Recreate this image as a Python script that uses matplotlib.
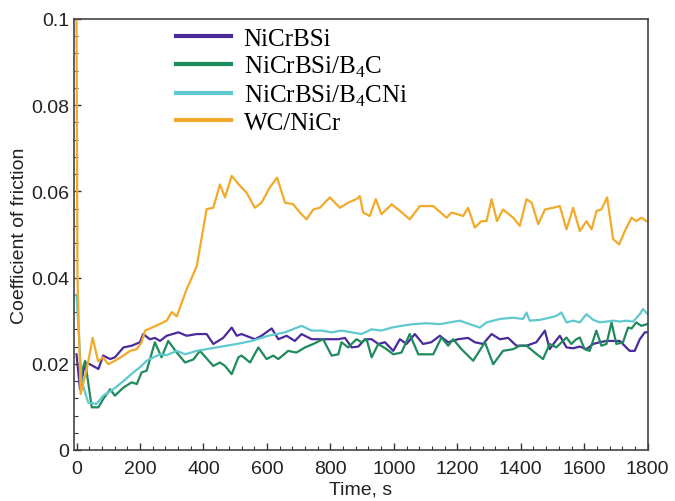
import numpy as np
import matplotlib
matplotlib.use('Agg')
import matplotlib.pyplot as plt
from matplotlib.ticker import MultipleLocator

# ------------------------------ Data -----------------------------------
labels = ['NiCrBSi', 'NiCrBSi/B$_4$C', 'NiCrBSi/B$_4$CNi', 'WC/NiCr']

t_nicrbsi = [0, 11, 27, 42, 69, 84, 106, 121, 148, 174, 200, 210, 231, 247, 263, 284, 321, 347, 379, 410,
             431, 462, 489, 505, 520, 562, 583, 615, 636, 662, 688, 709, 741, 762, 793, 825, 846, 867, 888, 909,
             930, 951, 972, 998, 1019, 1040, 1066, 1092, 1118, 1145, 1171, 1202, 1234, 1255, 1281, 1308, 1334,
             1360, 1386, 1418, 1449, 1476, 1491, 1507, 1523, 1544, 1565, 1586, 1607, 1628, 1649, 1670, 1691,
             1712, 1743, 1759, 1775, 1791, 1800]
cof_nicrbsi = [0.0222, 0.0141, 0.0203, 0.0199, 0.0188, 0.0219, 0.0211, 0.0215, 0.0238, 0.0242,
               0.025, 0.0269, 0.0257, 0.026, 0.0253, 0.0265, 0.0273, 0.0265, 0.0269, 0.0269,
               0.0246, 0.026, 0.0284, 0.0265, 0.0269, 0.0257, 0.0265, 0.0282, 0.0257, 0.0265,
               0.0253, 0.0269, 0.0257, 0.0257, 0.0257, 0.0257, 0.026, 0.0238, 0.024, 0.0257,
               0.0257, 0.0246, 0.025, 0.023, 0.0257, 0.0246, 0.0269, 0.0246, 0.025, 0.0265,
               0.025, 0.0257, 0.026, 0.025, 0.0246, 0.0269, 0.0257, 0.026, 0.0242, 0.0242,
               0.025, 0.0277, 0.0234, 0.025, 0.0265, 0.0238, 0.0236, 0.024, 0.0234, 0.0246,
               0.025, 0.0253, 0.0253, 0.0253, 0.023, 0.023, 0.0257, 0.0273, 0.0273]

t_b4c = [10, 27, 48, 69, 84, 106, 121, 148, 174, 190, 205, 221, 247, 268, 289, 316, 342, 368, 389, 431,
         452, 468, 489, 510, 520, 547, 573, 599, 620, 636, 667, 693, 720, 746, 777, 804, 825, 835, 856, 882,
         898, 914, 930, 951, 977, 998, 1024, 1050, 1077, 1098, 1124, 1150, 1171, 1187, 1213, 1250, 1287,
         1313, 1344, 1376, 1397, 1418, 1444, 1470, 1491, 1512, 1533, 1544, 1559, 1575, 1586, 1601, 1617,
         1638, 1654, 1670, 1686, 1701, 1722, 1738, 1749, 1764, 1780, 1798]
cof_b4c = [0.0165, 0.0207, 0.0099, 0.0099, 0.0118, 0.0141, 0.0126, 0.0145, 0.0157, 0.0153,
           0.018, 0.0184, 0.025, 0.0215, 0.0253, 0.0226, 0.0203, 0.021, 0.023, 0.0195,
           0.0203, 0.0195, 0.0176, 0.0215, 0.0219, 0.0203, 0.0238, 0.0211, 0.0219, 0.0211,
           0.023, 0.0226, 0.0238, 0.0246, 0.0257, 0.0219, 0.0222, 0.025, 0.0238, 0.0257,
           0.025, 0.0257, 0.0215, 0.0246, 0.0234, 0.0222, 0.0226, 0.0269, 0.0222, 0.0222,
           0.0222, 0.0261, 0.0242, 0.0257, 0.0234, 0.0207, 0.025, 0.0199, 0.023, 0.0234,
           0.0242, 0.0242, 0.0226, 0.0211, 0.0246, 0.0238, 0.0253, 0.0261, 0.0246, 0.0257,
           0.0261, 0.0234, 0.023, 0.0277, 0.0242, 0.0246, 0.0296, 0.0246, 0.025, 0.0284,
           0.0282, 0.0296, 0.0288, 0.0292]

t_b4cni = [0, 16, 37, 63, 84, 116, 148, 179, 200, 221, 242, 263, 284, 316, 342, 379, 410, 441, 473, 505,
           552, 604, 657, 709, 741, 772, 804, 835, 867, 898, 930, 961, 993, 1024, 1061, 1103, 1145, 1176,
           1208, 1239, 1271, 1292, 1334, 1376, 1407, 1418, 1428, 1460, 1491, 1512, 1528, 1544, 1565, 1586,
           1607, 1628, 1649, 1670, 1691, 1712, 1733, 1754, 1775, 1785, 1800]
cof_b4cni = [0.036, 0.016, 0.011, 0.0107, 0.0126, 0.0141, 0.016, 0.018, 0.0192, 0.0207,
             0.0215, 0.0222, 0.022, 0.023, 0.0222, 0.023, 0.0234, 0.0238, 0.0242, 0.0246,
             0.0253, 0.0265, 0.0273, 0.0288, 0.0277, 0.0277, 0.0273, 0.0277, 0.0273, 0.0269,
             0.028, 0.0277, 0.0284, 0.0288, 0.0292, 0.0294, 0.0292, 0.0296, 0.030, 0.0292,
             0.0284, 0.0296, 0.0304, 0.0307, 0.0304, 0.0319, 0.030, 0.0302, 0.0307, 0.0311,
             0.0319, 0.0296, 0.030, 0.0296, 0.0315, 0.0302, 0.0296, 0.0298, 0.030, 0.0298,
             0.030, 0.0298, 0.0315, 0.0327, 0.0315]

t_wc = [0, 3, 13, 30, 51, 68, 84, 100, 121, 148, 169, 190, 205, 216, 250, 284, 300, 316, 347, 357,
        379, 410, 431, 452, 468, 489, 515, 536, 562, 583, 609, 632, 657, 683, 704, 725, 746, 767, 798, 830,
        856, 882, 893, 903, 924, 943, 961, 993, 1019, 1050, 1082, 1124, 1166, 1182, 1218, 1234, 1255, 1276,
        1292, 1308, 1325, 1344, 1376, 1397, 1418, 1434, 1455, 1476, 1502, 1523, 1544, 1565, 1586, 1607,
        1623, 1639, 1654, 1672, 1691, 1710, 1728, 1749, 1764, 1780, 1796]
cof_wc = [0.100, 0.040, 0.013, 0.018, 0.026, 0.0206, 0.0215, 0.0199, 0.0207, 0.0219,
          0.023, 0.0234, 0.025, 0.0277, 0.0288, 0.030, 0.032, 0.031, 0.0373, 0.0389,
          0.0427, 0.0559, 0.0562, 0.0616, 0.0586, 0.0636, 0.0613, 0.0597, 0.0562, 0.0574,
          0.0609, 0.0632, 0.0574, 0.057, 0.0551, 0.0535, 0.0558, 0.0562, 0.0586, 0.0562,
          0.0574, 0.0582, 0.0589, 0.0551, 0.0543, 0.0582, 0.0547, 0.057, 0.0555, 0.0535,
          0.0566, 0.0566, 0.0539, 0.0551, 0.0543, 0.0562, 0.0516, 0.0531, 0.0531, 0.0582,
          0.0531, 0.0558, 0.0539, 0.052, 0.0582, 0.0574, 0.0524, 0.0558, 0.0562, 0.0566,
          0.0512, 0.0562, 0.0508, 0.0531, 0.0512, 0.0555, 0.0558, 0.0586, 0.0489, 0.0477,
          0.0508, 0.0539, 0.0531, 0.0539, 0.0531]

x_ticks = [0, 200, 400, 600, 800, 1000, 1200, 1400, 1600, 1800]
y_ticks = [0, 0.02, 0.04, 0.06, 0.08, 0.1]
y_tick_labels = ['0', '0.02', '0.04', '0.06', '0.08', '0.1']

colors = ['#4b2b9b', '#1f8a5c', '#5fc9cf', '#f2aa2a']

# ------------------------------ Plot -----------------------------------
plt.rcParams['font.family'] = ['Liberation Sans', 'DejaVu Sans']
plt.rcParams['mathtext.fontset'] = 'custom'
plt.rcParams['mathtext.rm'] = 'Liberation Serif'

fig = plt.figure(figsize=(6.75, 5.02), dpi=100)
ax = fig.add_axes([0.1096, 0.1016, 0.850, 0.8586])

series = [(t_nicrbsi, cof_nicrbsi), (t_b4c, cof_b4c), (t_b4cni, cof_b4cni), (t_wc, cof_wc)]
for (t, c), lab, col in zip(series, labels, colors):
    ax.plot(t, c, color=col, lw=1.6, label=lab)

ax.set_xlim(-8, 1800)
ax.set_ylim(0, 0.1)
ax.set_xticks(x_ticks)
ax.set_yticks(y_ticks)
ax.set_yticklabels(y_tick_labels)
ax.xaxis.set_minor_locator(MultipleLocator(40))
ax.yaxis.set_minor_locator(MultipleLocator(0.004))
ax.tick_params(which='both', direction='in', top=False, right=False, labelsize=14, colors='#333333',
               labelcolor='#222222')
ax.tick_params(which='major', length=5, width=1)
ax.tick_params(which='minor', length=3, width=0.8)
ax.tick_params(axis='x', which='major', pad=7)
for sp in ax.spines.values():
    sp.set_color('#444444')
    sp.set_linewidth(1.2)

ax.set_xlabel('Time, s', fontsize=14, labelpad=3, color='#222222')
ax.set_ylabel('Coefficient of friction', fontsize=14, labelpad=2, color='#222222')

leg = ax.legend(loc='upper left', bbox_to_anchor=(0.178, 0.981), frameon=False, borderpad=0,
                borderaxespad=0, prop={'family': 'Liberation Serif', 'size': 18}, handlelength=2.2,
                handletextpad=0.5, labelspacing=0.15)
for line in leg.get_lines():
    line.set_linewidth(3)

fig.savefig('out.png', dpi=100)
